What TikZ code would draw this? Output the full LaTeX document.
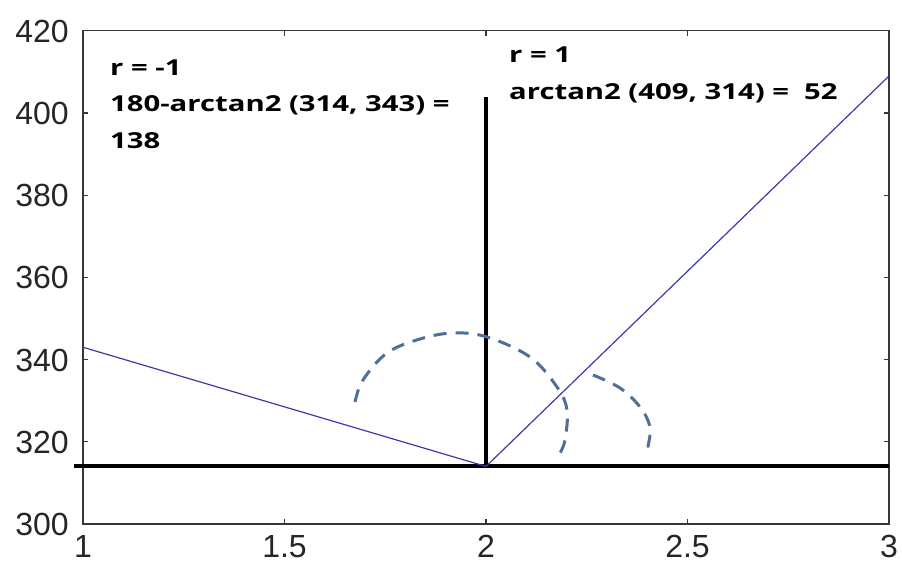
\documentclass[tikz,border=0pt]{standalone}
\usepackage{fontspec}
\setmainfont{Liberation Sans}
\newfontfamily\lblfont{Open Sans}
\definecolor{linecol}{RGB}{58,58,170}
\definecolor{dashcol}{RGB}{78,112,150}
\definecolor{axiscol}{RGB}{55,55,55}
\newcommand{\wide}[1]{\scalebox{1.33}[1]{#1}}
\tikzset{
  axisbox/.style={draw=axiscol, line width=1.4pt},
  tickmark/.style={draw=axiscol, line width=1.1pt},
  thickline/.style={draw=black, line width=4pt},
  dataline/.style={draw=linecol, line width=1.2pt},
  anglearc/.style={draw=dashcol, line width=3pt, dash pattern=on 13pt off 9pt},
  ticklabel/.style={font=\fontsize{32}{38}\selectfont, text=black!85, inner sep=0pt},
  annot/.style={font=\lblfont\bfseries\fontsize{22}{26}\selectfont, anchor=base west, inner sep=0pt}
}
\begin{document}
\begin{tikzpicture}[x=1pt,y=1pt]
\useasboundingbox (0,0) rectangle (902,564);
% data scope
\begin{scope}[x=403pt, y=4.11pt, shift={(-320pt,-1193pt)}]
  \coordinate (BL) at (1,300);
  \coordinate (TR) at (3,420);
  \coordinate (O) at (2,314);
  \coordinate (L) at (1,343);
  \coordinate (R) at (3,409);
  \coordinate (T) at (2,403.9);
  \coordinate (HL) at (0.978,314);
  \coordinate (HR) at (3.0,314);
  \draw[axisbox] (BL) rectangle (TR);
  \foreach \xv in {1.5,2,2.5}{
    \draw[tickmark] (\xv,300) -- ++(0,5pt);
    \draw[tickmark] (\xv,420) -- ++(0,-5pt);
  }
  \foreach \yv in {320,340,...,400}{
    \draw[tickmark] (1,\yv) -- ++(5pt,0);
    \draw[tickmark] (3,\yv) -- ++(-5pt,0);
  }
  \foreach \xv in {1,1.5,2,2.5,3}{
    \node[ticklabel, anchor=base] (xl\xv) at ([yshift=-34pt]\xv,300) {\xv};
  }
  \foreach \yv in {300,320,...,420}{
    \node[ticklabel, anchor=base east] (yl\yv) at ([xshift=-14pt,yshift=-11.5pt]1,\yv) {\yv};
  }
  \draw[thickline] (HL) -- (HR);
  \draw[thickline] (O) -- (T);
  \draw[dataline] (L) -- (O) -- (R);
\end{scope}
% angle arcs (pixel coordinates, y up)
\draw[anglearc] plot[smooth, tension=0.6] coordinates {(355,162) (363,184) (387,211) (420,225) (453,231) (487,227) (530,207) (557,177) (567,154) (565,124) (560,111)};
\draw[anglearc] plot[smooth, tension=0.6] coordinates {(593,189) (620,176) (640,157) (650,137) (648,117) (647,109)};
% annotations
\node[annot] (t1) at (110,488) {\wide{r = -1}};
\node[annot] (t2) at (110,452) {\wide{180-arctan2 (314, 343) =}};
\node[annot] (t3) at (110,415) {\wide{138}};
\node[annot] (t4) at (509,501) {\wide{r = 1}};
\node[annot] (t5) at (509,464) {\wide{arctan2 (409, 314) = \ 52}};
\end{tikzpicture}
\end{document}
